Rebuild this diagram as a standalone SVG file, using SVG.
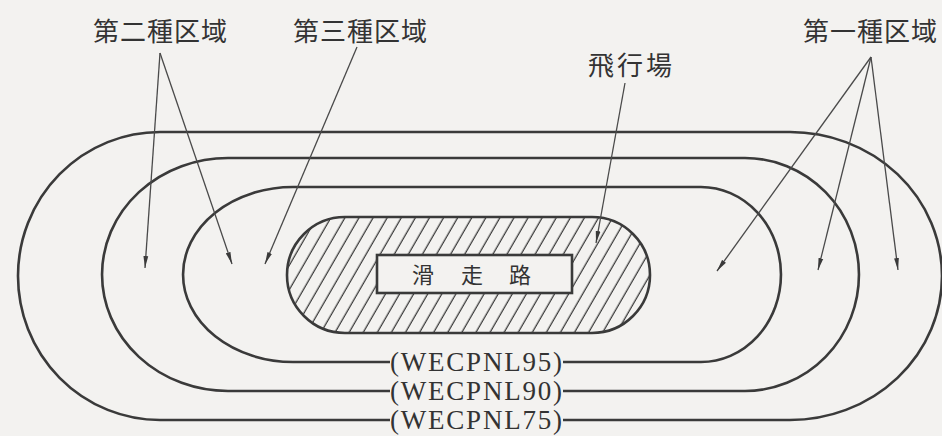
<svg xmlns="http://www.w3.org/2000/svg" width="942" height="436" viewBox="0 0 942 436">
<style>
.loop{fill:none;stroke:#3a3a3a;stroke-width:2.6}
.lead{fill:none;stroke:#4a4a4a;stroke-width:1.3;marker-end:url(#ah)}
.jp{font-family:"Noto Sans CJK JP","Noto Sans",sans-serif;font-size:26px;fill:#333;letter-spacing:1px}
.lbl{font-family:"Liberation Serif","DejaVu Serif",serif;font-size:27px;fill:#333}
</style>
<defs>
<marker id="ah" viewBox="0 0 12 6" refX="12" refY="3" markerWidth="12" markerHeight="6" markerUnits="userSpaceOnUse" orient="auto">
<path d="M0,0.6 L12,3 L0,5.4 Z" fill="#3a3a3a"/>
</marker>
<pattern id="hatch" patternUnits="userSpaceOnUse" width="12.2" height="20" patternTransform="rotate(30)">
<line x1="5" y1="0" x2="5" y2="20" stroke="#3a3a3a" stroke-width="1.3"/>
</pattern>
</defs>
<rect x="0" y="0" width="942" height="436" fill="#f3f2f0"/>

<g id="contours">
<g id="wecpnl95">
<path class="loop" d="M563 362 L701 362 A80 87.5 0 0 0 701 187 L293 187 A110 87.5 0 0 0 293 362 L390 362"/>
<text class="lbl" x="390" y="371" textLength="172" lengthAdjust="spacing">(WECPNL95)</text>
</g>
<g id="wecpnl90">
<path class="loop" d="M563 391 L745 391 A114 116.5 0 0 0 745 158 L228 158 A126 116.5 0 0 0 228 391 L390 391"/>
<text class="lbl" x="390" y="400" textLength="172" lengthAdjust="spacing">(WECPNL90)</text>
</g>
<g id="wecpnl75">
<path class="loop" d="M563 420 L790 420 A152 144 0 0 0 790 132 L160 132 A142 144 0 0 0 160 420 L390 420"/>
<text class="lbl" x="390" y="429" textLength="172" lengthAdjust="spacing">(WECPNL75)</text>
</g>
</g>

<g id="airfield">
<path d="M345 217 L592 217 A58 58 0 0 1 592 333 L345 333 A58 58 0 0 1 345 217 Z" fill="url(#hatch)" stroke="#3a3a3a" stroke-width="2.6"/>
</g>

<g id="runway">
<rect x="377" y="255" width="195" height="38" fill="#f3f2f0" stroke="#3a3a3a" stroke-width="2.6"/>
<text x="412 461 509" y="283" style="font-family:'Noto Sans CJK JP',sans-serif;font-size:22px;fill:#333">滑走路</text>
</g>

<g id="label-zone2"><text class="jp" x="93" y="41">第二種区域</text></g>
<g id="label-zone3"><text class="jp" x="293" y="41">第三種区域</text></g>
<g id="label-zone1"><text class="jp" x="803" y="41">第一種区域</text></g>
<g id="label-airfield"><text class="jp" x="588" y="75" style="letter-spacing:3px">飛行場</text></g>

<g id="connectors">
<path class="lead" d="M160 53 L145 268"/>
<path class="lead" d="M160 53 L232 264"/>
<path class="lead" d="M357 47 L265 264"/>
<path class="lead" d="M625 83 L596 243"/>
<path class="lead" d="M871 57 L717 271"/>
<path class="lead" d="M871 57 L818 270"/>
<path class="lead" d="M871 57 L898 270"/>
</g>
</svg>
